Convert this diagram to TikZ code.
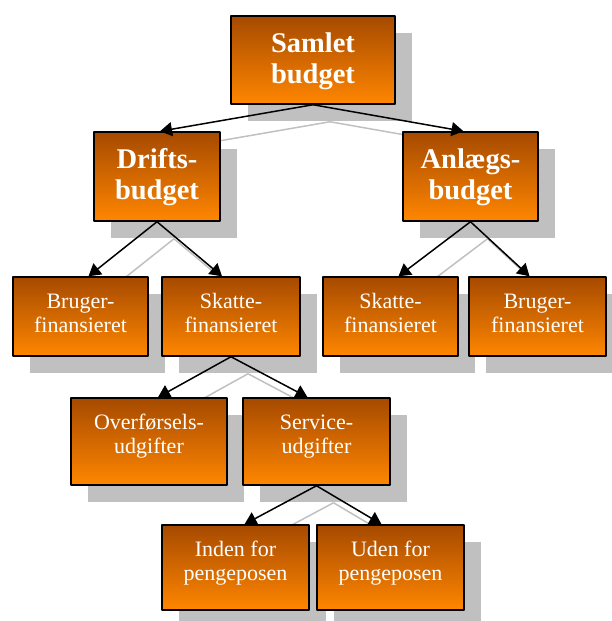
\documentclass[tikz,border=0pt]{standalone}
\usepackage{fontspec}
\setmainfont{Liberation Serif}
\usetikzlibrary{arrows.meta,shadows}
\definecolor{orTop}{RGB}{166,74,0}
\definecolor{orBot}{RGB}{255,134,0}
\definecolor{shgray}{RGB}{192,192,192}
\pgfdeclarelayer{bg}
\pgfsetlayers{bg,main}
\tikzset{
  box/.style={draw=black, line width=1.5pt, top color=orTop, bottom color=orBot,
    text=white, align=center, inner sep=0pt,
    drop shadow={shadow xshift=17pt, shadow yshift=-17pt, opacity=1, fill=shgray}},
  bigbox/.style={box, font=\fontsize{28.5}{31}\selectfont\bfseries, text height=67pt},
  smallbox/.style={box, font=\fontsize{22}{24}\selectfont, text height=55pt},
  shline/.style={draw=shgray, line width=1.5pt}
}
\begin{document}
\begin{tikzpicture}[x=1pt, y=-1pt, line join=round, >={Triangle[length=12pt,width=14pt]}]
			\useasboundingbox (0,0) rectangle (612,621);
			% niveau 1 og 2
			\node[bigbox, minimum width=164pt, text depth=21pt] (samlet) at (313,60) {Samlet\\budget};
			\node[bigbox, minimum width=126pt, text depth=22pt] (drifts) at (157,176.5) {Drifts-\\budget};
			\node[bigbox, minimum width=135pt, text depth=22pt] (anlaegs) at (470.5,176.5) {Anlægs-\\budget};
			% niveau 3
			\node[smallbox, minimum width=135pt, text depth=24pt] (brugerA) at (80.5,316.5) {Bruger-\\finansieret};
			\node[smallbox, minimum width=138pt, text depth=24pt] (skatteA) at (231,316.5) {Skatte-\\finansieret};
			\node[smallbox, minimum width=135pt, text depth=24pt] (skatteB) at (390.5,316.5) {Skatte-\\finansieret};
			\node[smallbox, minimum width=137pt, text depth=24pt] (brugerB) at (537.5,316.5) {Bruger-\\finansieret};
			% niveau 4 og 5
			\node[smallbox, minimum width=156pt, text depth=32pt] (overf) at (149,441.5) {Overførsels-\\udgifter};
			\node[smallbox, minimum width=147pt, text depth=32pt] (service) at (316.5,441.5) {Service-\\udgifter};
			\node[smallbox, minimum width=147pt, text depth=30pt] (inden) at (235.5,567.5) {Inden for\\pengeposen};
			\node[smallbox, minimum width=147pt, text depth=30pt] (uden) at (390.5,567.5) {Uden for\\pengeposen};
			% forbindelser
			\foreach \p/\c/\s in {samlet/drifts/3, samlet/anlaegs/-7, drifts/brugerA/8, drifts/skatteA/-9,
				anlaegs/skatteB/8, anlaegs/brugerB/-8, skatteA/overf/9, skatteA/service/-9,
				service/inden/9, service/uden/-9}{
				\draw[->, line width=1.5pt] (\p.south) -- ([xshift=\s pt]\c.north);
				\begin{pgfonlayer}{bg}
				\draw[shline] ([xshift=17pt, yshift=-17pt]\p.south) -- ([xshift=17pt+\s pt, yshift=-17pt]\c.north);
				\end{pgfonlayer}
			}
		\end{tikzpicture}
\end{document}
